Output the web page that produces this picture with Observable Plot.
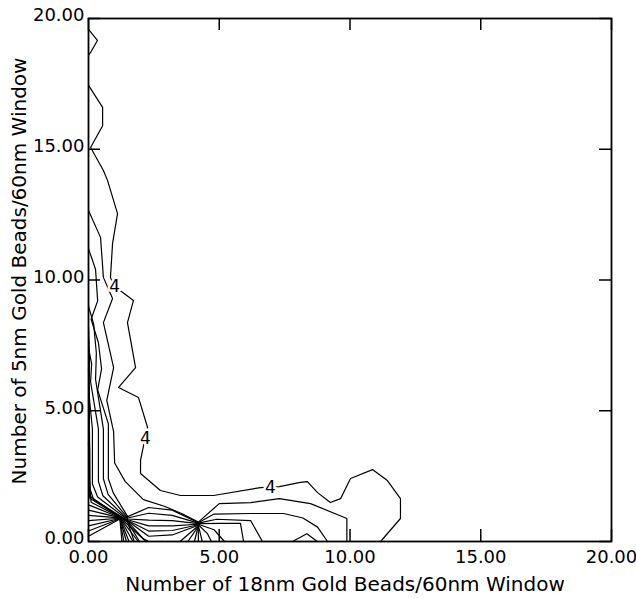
<!DOCTYPE html>
<html><head><meta charset="utf-8">
<script src="https://cdn.jsdelivr.net/npm/d3@7"></script>
<script src="https://cdn.jsdelivr.net/npm/@observablehq/plot@0.6"></script>
<style>body{margin:0;background:#fff}</style>
</head><body><div id="chart"></div>
<script>
// ---- data (data units) ----
const xTicks = [0, 5, 10, 15, 20];
const yTicks = [0, 5, 10, 15, 20];
const xTitle = "Number of 18nm Gold Beads/60nm Window";
const yTitle = "Number of 5nm Gold Beads/60nm Window";

// contour level 4 (outermost)
const level4Main = [[0,17.44],[0.54,16.6],[0.54,15.9],[0.08,15.07],[0.57,14.19],[0.73,13.8],[1.11,12.54],[0.92,11.4],[0.84,10.1],[1.0,9.7],[1.26,9.56],[1.72,9.22],[1.49,8.37],[1.8,6.65],[1.15,5.89],[1.91,5.51],[2.26,4.36],[2.15,3.9],[1.99,3.1],[1.99,2.6],[2.75,1.95],[3.52,1.76],[4.78,1.76],[6.58,2.06],[7.3,2.1],[8.1,2.26],[8.37,2.29],[8.76,1.87],[9.25,1.49],[9.64,1.64],[10.02,2.41],[10.86,2.75],[11.43,2.33],[11.93,1.64],[11.93,0.88],[11.17,0]];
const level4Top = [[0,19.58],[0.34,19.16],[0.08,18.7],[0,18.6]];
const level4Island = [[7.8,0],[8.35,0.3],[8.75,0]];
// inner contour levels
const levelB = [[0,12.66],[0.46,11.63],[0.57,10.1],[0.92,9.29],[0.57,8.37],[0.96,6.65],[0.7,5.4],[0.96,4.2],[1.0,3.0],[1.4,2.3],[2.1,1.6],[2.9,1.35],[3.6,1.05],[4.2,0.74],[5.0,1.45],[6.2,1.49],[7.3,1.64],[8.49,1.45],[9.88,0.88],[9.88,0]];
const levelC = [[0,11.2],[0.27,10.4],[0.35,9.2],[0.1,8.5],[0.38,7.6],[0.5,6.6],[0.35,5.8],[0.76,4.5],[0.76,2.4],[0.95,1.85],[1.5,0.95],[2.3,1.3],[3.2,1.2],[4.2,0.72],[4.8,1.05],[6.2,1.07],[7.46,1.07],[8.2,0.9],[8.76,0.55],[9.14,0]];
const levelD = [[0,9.0],[0.2,8.3],[0.3,7.2],[0.27,6.2],[0.57,4.3],[0.57,2.4],[0.75,1.8],[1.5,0.9],[2.3,1.08],[3.2,1.0],[4.2,0.7],[4.9,0.85],[6.2,0.8],[6.65,0]];
const levelE = [[0,7.4],[0.12,6.8],[0.08,6.1],[0.38,4.3],[0.38,2.3],[0.55,1.75],[1.5,0.86],[2.3,0.82],[3.2,0.8],[4.2,0.68],[5.05,0.69],[5.81,0.69],[5.93,0]];
const levelF = [[0,6.0],[0.05,5.3],[0.15,4.3],[0.15,2.2],[0.35,1.7],[1.5,0.83],[2.3,0.6],[3.2,0.6],[4.2,0.66],[4.8,0.45],[5.2,0]];
const levelG = [[0,5.0],[0.05,3.5],[0.06,2.0],[0.2,1.6],[1.5,0.8],[2.3,0.4],[3.2,0.42],[4.2,0.64],[4.55,0.3],[4.7,0]];
const levelH = [[0,3.8],[0.03,2.4],[0.1,1.5],[1.5,0.78],[2.3,0.2],[3.2,0.25],[4.2,0.62],[4.35,0]];
const levelI = [[0,8.2],[0.04,7.0],[0.02,5.5],[0.04,4.0],[0.02,2.8],[0.05,1.65],[1.5,0.76],[2.1,0.1],[2.3,0]];
const levelJ = [[0,6.6],[0.03,5.2],[0.02,3.2],[0.03,1.75],[1.5,0.74],[1.95,0]];
const valleyA = [[1.5,0.72],[1.75,0]];
const valleyB = [[3.5,0],[4.2,0.6],[4.05,0]];
const valleyC = [[3.8,0],[4.2,0.58],[4.2,0]];
const cornerA = [[0,1.4],[1.2,0.92],[2.2,0]];
const cornerB = [[0,1.2],[1.2,0.91],[1.9,0]];
const cornerC = [[0,1.0],[1.2,0.9],[1.7,0]];
const cornerD = [[0,0.8],[1.2,0.89],[1.55,0]];
const cornerE = [[0,0.6],[1.2,0.88],[1.45,0]];
const cornerF = [[0,0.4],[1.2,0.87],[1.35,0]];
const cornerG = [[0,0.2],[1.2,0.86],[1.28,0]];

const labelX = [1.0, 2.18, 6.96];
const labelY = [9.75, 3.94, 2.08];
const labelText = ["4", "4", "4"];

const contourLines = [level4Main, level4Top, level4Island, levelB, levelC, levelD, levelE, levelF, levelG, levelH, levelI, levelJ,
  valleyA, valleyB, valleyC, cornerA, cornerB, cornerC, cornerD, cornerE, cornerF, cornerG];
const rows = contourLines.flatMap((pts, i) => pts.map(([x, y]) => ({id: i, x, y})));
const labels = labelText.map((t, i) => ({x: labelX[i], y: labelY[i], t}));

const W = 636, H = 598, ML = 88, MR = 25, MT = 18, MB = 57;
const frameH = H - MT - MB, frameW = W - ML - MR;
const tickLen = 12;

const chart = Plot.plot({
  width: W, height: H,
  marginLeft: ML, marginRight: MR, marginTop: MT, marginBottom: MB,
  style: {fontFamily: "DejaVu Sans", fontSize: "19px", color: "#000", background: "#fff"},
  x: {domain: [0, 20], label: null},
  y: {domain: [0, 20], label: null},
  marks: [
    Plot.axisX(xTicks, {tickSize: 0, tickPadding: 9, tickFormat: d3.format(".2f"), fontSize: 18}),
    Plot.axisY(yTicks, {tickSize: 0, tickPadding: 4, dy: -3, tickFormat: d3.format(".2f"), fontSize: 18}),
    Plot.line(rows, {x: "x", y: "y", z: "id", stroke: "#000", strokeWidth: 1.2}),
    Plot.text(labels, {x: "x", y: "y", text: "t", fontSize: 17, fill: "#000", stroke: "#fff", strokeWidth: 5, paintOrder: "stroke"}),
    Plot.tickX(xTicks, {x: d => d, insetTop: frameH - tickLen, stroke: "#000", strokeWidth: 1.5}),
    Plot.tickX(xTicks, {x: d => d, insetBottom: frameH - tickLen, stroke: "#000", strokeWidth: 1.5}),
    Plot.tickY(yTicks, {y: d => d, insetRight: frameW - tickLen, stroke: "#000", strokeWidth: 1.5}),
    Plot.tickY(yTicks, {y: d => d, insetLeft: frameW - tickLen, stroke: "#000", strokeWidth: 1.5}),
    Plot.frame({stroke: "#000", strokeWidth: 1.8}),
    Plot.text([xTitle], {text: d => d, frameAnchor: "bottom", textAnchor: "middle", lineAnchor: "middle", dy: 43, dx: -5, fontSize: 20}),
    Plot.text([yTitle], {text: d => d, frameAnchor: "left", textAnchor: "middle", lineAnchor: "middle", dx: -69, dy: -9, rotate: -90, fontSize: 20})
  ]
});
document.getElementById("chart").appendChild(chart);
</script>
</body></html>
